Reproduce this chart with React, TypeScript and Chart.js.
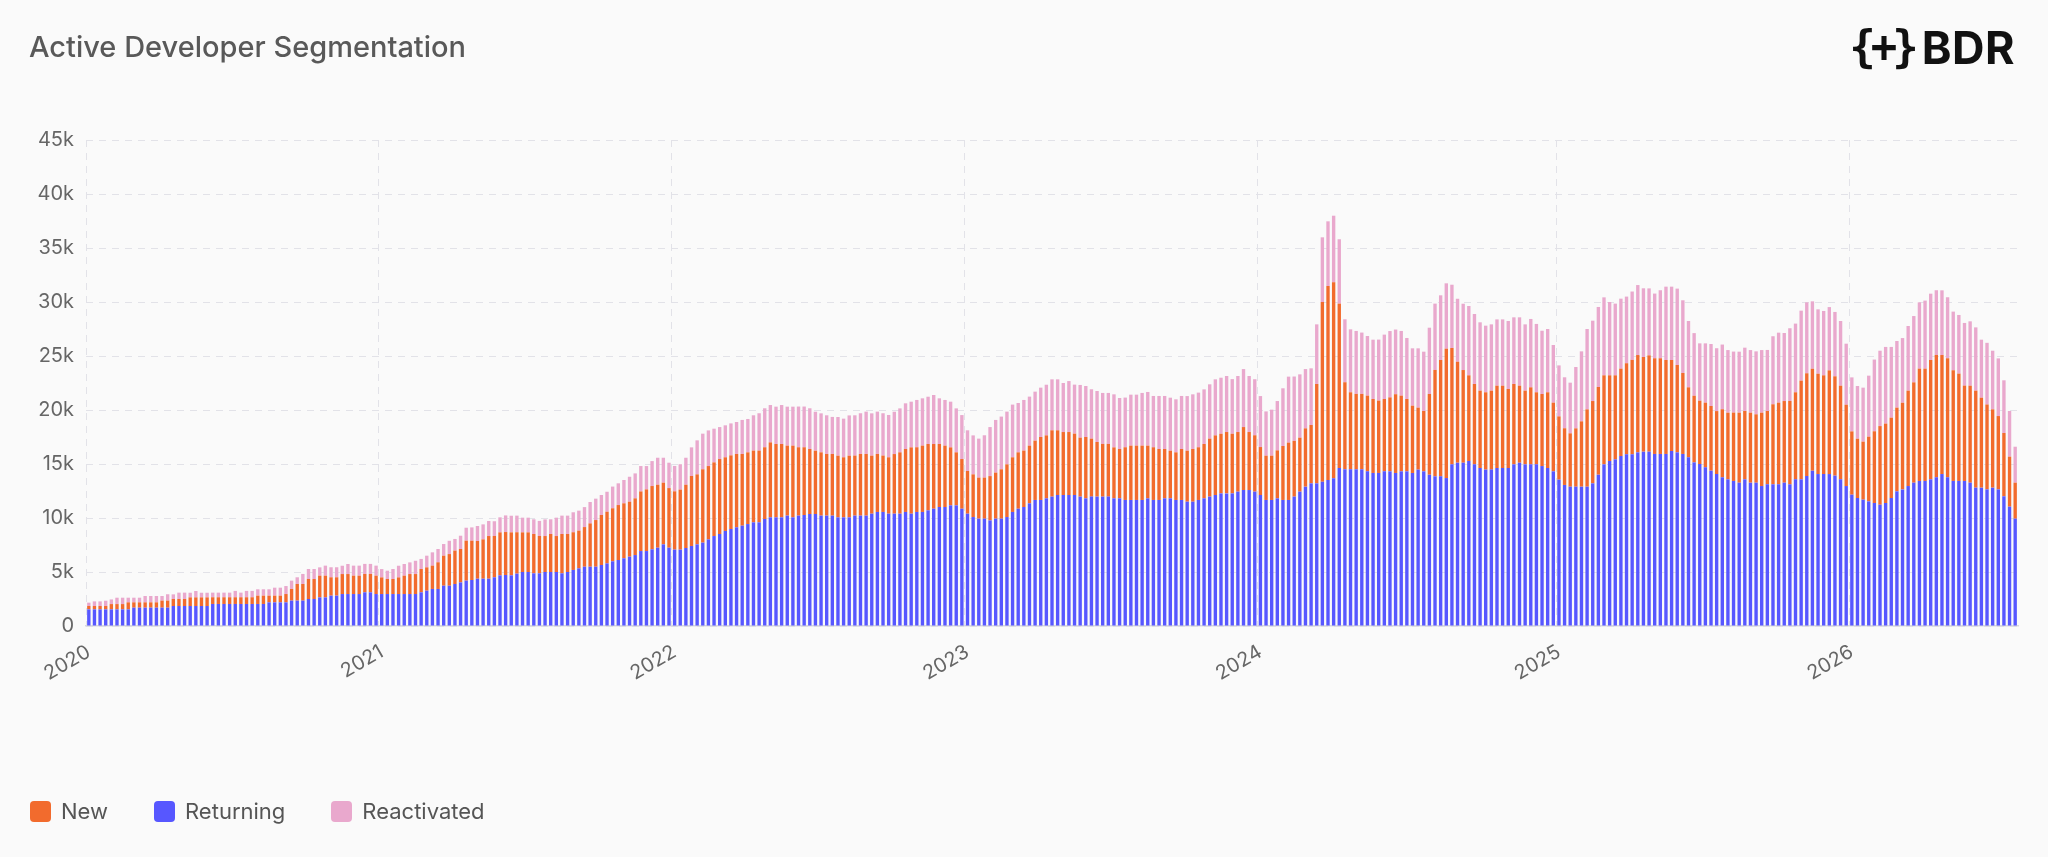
import { Chart, registerables } from "chart.js";
import type { ChartConfiguration } from "chart.js";
import React from "react";

Chart.register(...registerables);

// weekly buckets, Monday starts
const firstWeek = "2020-01-06";
const weekCount = 343;

const seriesNames = ["New", "Returning", "Reactivated"];
const seriesColors = ["#F26B2D", "#5757FF", "#E9A8CD"];
const yTickValues = [0, 5000, 10000, 15000, 20000, 25000, 30000, 35000, 40000, 45000];

// rows are calendar years 2020 ... 2026
const returning = [
  1540, 1540, 1540, 1540, 1540, 1540, 1540, 1540, 1700, 1700, 1700, 1700, 1700, 1700, 1700, 1850, 1850, 1850, 1850, 1850, 1850, 1850, 2040, 2040, 2040, 2040, 2040, 2040, 2040, 2040, 2040, 2040, 2190, 2190, 2190, 2190, 2350, 2350, 2350, 2500, 2500, 2650, 2650, 2810, 2810, 2960, 2960, 2960, 2960, 3120, 3120, 2960,
  2960, 2960, 2960, 2960, 2960, 2960, 2960, 3120, 3270, 3430, 3430, 3730, 3730, 3890, 4040, 4200, 4260, 4380, 4380, 4380, 4510, 4690, 4720, 4690, 4850, 5000, 5000, 4880, 4880, 5000, 5000, 5000, 4880, 5000, 5190, 5340, 5490, 5490, 5490, 5650, 5800, 5990, 6110, 6270, 6420, 6570, 6940, 6940, 7100, 7250, 7560, 7250,
  7070, 7070, 7220, 7410, 7560, 7720, 8020, 8330, 8520, 8800, 8980, 9140, 9290, 9440, 9600, 9600, 9910, 10060, 10060, 10060, 10220, 10060, 10220, 10280, 10370, 10370, 10220, 10220, 10220, 10060, 10060, 10060, 10220, 10220, 10220, 10400, 10560, 10560, 10400, 10400, 10400, 10560, 10400, 10560, 10560, 10710, 10860, 11020, 11020, 11170, 11170, 10860,
  10400, 10090, 9940, 9940, 9780, 9940, 9940, 10090, 10560, 10860, 11020, 11360, 11670, 11670, 11820, 11980, 12130, 12130, 12130, 12130, 11980, 11820, 11980, 11980, 11980, 11980, 11820, 11820, 11670, 11670, 11670, 11670, 11820, 11670, 11670, 11820, 11820, 11670, 11670, 11510, 11510, 11670, 11820, 11980, 12130, 12280, 12280, 12280, 12440, 12590, 12590, 12440,
  12130, 11670, 11670, 11820, 11670, 11670, 11980, 12440, 12900, 13210, 13210, 13360, 13520, 13670, 14630, 14510, 14510, 14510, 14510, 14320, 14170, 14170, 14320, 14320, 14170, 14320, 14320, 14170, 14480, 14320, 14010, 13860, 13860, 13700, 14970, 15120, 15120, 15280, 14970, 14630, 14480, 14480, 14630, 14630, 14630, 14970, 15120, 14970, 14970, 14970, 14810, 14630, 14320,
  13550, 13060, 12900, 12900, 12900, 12900, 13210, 14010, 14970, 15280, 15430, 15740, 15900, 15900, 16080, 16140, 16140, 15930, 15930, 15930, 16200, 16080, 15930, 15620, 15150, 15000, 14690, 14380, 14070, 13770, 13580, 13430, 13270, 13580, 13270, 13270, 12960, 13120, 13120, 13120, 13270, 13120, 13580, 13580, 13890, 14380, 14070, 14070, 14070, 13920, 13580, 12960,
  12160, 11850, 11700, 11540, 11390, 11230, 11390, 11850, 12470, 12650, 12960, 13270, 13430, 13430, 13580, 13770, 14070, 13770, 13430, 13430, 13430, 13270, 12810, 12810, 12650, 12810, 12650, 12010, 11050, 9940,
];

const newDevs = [
  310, 310, 310, 310, 490, 490, 490, 650, 490, 490, 490, 490, 490, 650, 650, 650, 650, 650, 800, 800, 800, 800, 620, 620, 620, 620, 620, 620, 620, 620, 770, 770, 620, 620, 620, 770, 1080, 1540, 1540, 1850, 1850, 2010, 2010, 1700, 1700, 1850, 1850, 1700, 1700, 1700, 1700, 1700,
  1540, 1390, 1390, 1540, 1700, 1850, 1850, 2160, 2160, 2160, 2470, 2780, 2930, 3090, 3090, 3700, 3640, 3490, 3640, 3950, 3830, 3980, 3980, 3980, 3830, 3670, 3670, 3640, 3460, 3330, 3520, 3330, 3640, 3520, 3490, 3490, 3670, 4010, 4320, 4630, 4780, 4910, 5090, 5090, 5090, 5250, 5520, 5710, 5860, 5830, 5710, 5520,
  5400, 5560, 5860, 6480, 6480, 6790, 6790, 6820, 6940, 6820, 6820, 6790, 6640, 6640, 6640, 6640, 6640, 6940, 6790, 6790, 6480, 6640, 6330, 6270, 6020, 5860, 5860, 5710, 5710, 5710, 5560, 5710, 5560, 5710, 5710, 5370, 5370, 5220, 5220, 5520, 5680, 5830, 6140, 5990, 6140, 6140, 5990, 5830, 5680, 5370, 4910, 4600,
  3950, 3950, 3800, 3800, 4100, 4260, 4570, 4880, 5060, 5220, 5220, 5340, 5490, 5830, 5830, 6140, 5990, 5830, 5830, 5680, 5460, 5680, 5370, 5060, 4880, 4880, 4720, 4570, 4880, 5030, 5030, 5030, 4880, 4880, 4720, 4570, 4410, 4410, 4720, 4720, 4880, 4880, 5030, 5370, 5520, 5520, 5680, 5520, 5520, 5830, 5370, 5220,
  4440, 4100, 4100, 4440, 5000, 5310, 5160, 5000, 5400, 5400, 9200, 16640, 17960, 18150, 15220, 8060, 7130, 6980, 6980, 7010, 6850, 6700, 6700, 6850, 7290, 7010, 6700, 6230, 5740, 5590, 7470, 9850, 10770, 11980, 10770, 9350, 8580, 7930, 7440, 7160, 7160, 7310, 7620, 7620, 7320, 7440, 7130, 6820, 7130, 6670, 6670, 7010, 6360,
  5860, 5250, 4940, 5400, 6050, 7160, 7620, 8120, 8240, 7930, 7780, 8090, 8430, 8740, 9010, 8770, 8920, 8860, 8860, 8700, 8430, 8090, 7500, 6480, 6170, 5860, 5990, 5990, 5830, 6300, 6170, 6330, 6480, 6330, 6480, 6330, 6790, 6790, 7410, 7560, 7560, 7720, 8060, 9140, 9510, 9440, 9290, 9140, 9600, 9200, 8670, 7530,
  5860, 5490, 5370, 5990, 6640, 7280, 7350, 7440, 7750, 8020, 8830, 9290, 10400, 10400, 11050, 11330, 11020, 11020, 10250, 9940, 8830, 8980, 8980, 8330, 7860, 7250, 6790, 5860, 4630, 3330,
];

const reactivated = [
  310, 430, 430, 490, 430, 590, 590, 430, 430, 430, 590, 590, 590, 430, 590, 430, 590, 590, 430, 590, 430, 430, 430, 430, 430, 430, 590, 430, 590, 590, 590, 590, 590, 740, 740, 740, 770, 620, 930, 930, 930, 770, 930, 930, 930, 770, 930, 930, 930, 930, 930, 930,
  770, 770, 930, 1080, 1080, 1080, 1230, 930, 1080, 1230, 1230, 1080, 1230, 1080, 1230, 1200, 1230, 1390, 1390, 1390, 1360, 1390, 1540, 1540, 1540, 1360, 1360, 1360, 1390, 1540, 1360, 1700, 1700, 1700, 1850, 1850, 1850, 1980, 1980, 1850, 1850, 2010, 2010, 2160, 2310, 2310, 2350, 2160, 2310, 2500, 2310, 2350,
  2350, 2350, 2500, 2650, 3150, 3300, 3300, 3120, 2960, 2960, 2960, 2960, 3150, 3090, 3270, 3460, 3610, 3460, 3460, 3610, 3610, 3610, 3770, 3770, 3770, 3610, 3610, 3580, 3430, 3580, 3580, 3730, 3730, 3770, 3920, 3920, 3920, 3920, 3920, 3920, 4070, 4230, 4230, 4380, 4380, 4380, 4540, 4230, 4230, 4230, 4070, 4070,
  3770, 3610, 3610, 3920, 4540, 4880, 4880, 4880, 4880, 4570, 4690, 4540, 4540, 4570, 4690, 4720, 4720, 4540, 4720, 4540, 4880, 4720, 4570, 4720, 4720, 4720, 4910, 4720, 4600, 4720, 4720, 4880, 4970, 4750, 4910, 4910, 4910, 4910, 4910, 5060, 5060, 5060, 5060, 5030, 5190, 5190, 5190, 5060, 5190, 5370, 5190, 5190,
  4720, 4100, 4260, 4570, 5340, 6110, 5960, 5860, 5490, 5250, 5520, 5990, 5990, 6170, 5960, 5830, 5830, 5830, 5680, 5520, 5490, 5650, 5960, 6140, 5990, 5990, 5650, 5310, 5490, 5490, 6140, 6140, 5990, 6050, 5860, 5830, 6140, 6420, 6480, 6330, 6170, 6140, 6140, 6140, 6290, 6170, 6330, 6140, 6330, 6330, 5860, 5860, 5340,
  4720, 4720, 4690, 5680, 6480, 7440, 7440, 7410, 7220, 6790, 6640, 6480, 6170, 6330, 6480, 6360, 6200, 5990, 6300, 6790, 6790, 7070, 6730, 6140, 5800, 5310, 5490, 5740, 5820, 5990, 5800, 5650, 5650, 5860, 5800, 5830, 5800, 5650, 6300, 6480, 6300, 6730, 6360, 6480, 6570, 6240, 5960, 5960, 5860, 5960, 5990, 5650,
  5000, 4880, 5000, 5650, 6640, 6980, 7100, 6550, 6170, 5990, 5990, 6140, 6140, 6300, 6140, 5990, 5990, 5650, 5430, 5430, 5800, 5960, 5860, 5370, 5710, 5430, 5340, 4880, 4230, 3330,
];

function buildWeeks(): string[] {
  const out: string[] = [];
  const start = new Date(firstWeek + "T00:00:00Z");
  for (let i = 0; i < weekCount; i++) {
    const d = new Date(start.getTime() + i * 7 * 86400000);
    out.push(d.toISOString().slice(0, 10));
  }
  return out;
}

const weeks = buildWeeks();
// index of the first week in each calendar year
const yearStarts = new Set(
  weeks
    .map((w, i) => (i === 0 || w.slice(0, 4) !== weeks[i - 1].slice(0, 4) ? i : -1))
    .filter((i) => i >= 0)
);

const gridColor = "#e2e2e8";
const tickColor = "#666666";

function buildConfig(): ChartConfiguration<"bar"> {
  const values: Record<string, number[]> = {
    New: newDevs,
    Returning: returning,
    Reactivated: reactivated,
  };
  // stacking: returning at the bottom, new in the middle, reactivated on top
  const stackOrder = ["Returning", "New", "Reactivated"];
  return {
    type: "bar",
    data: {
      labels: weeks,
      datasets: stackOrder.map((name) => ({
        label: name,
        data: values[name],
        backgroundColor: seriesColors[seriesNames.indexOf(name)],
        borderWidth: 0,
        barPercentage: 0.6,
        categoryPercentage: 1,
      })),
    },
    options: {
      animation: false,
      responsive: true,
      maintainAspectRatio: false,
      layout: { padding: { top: 140, right: 30, bottom: 171, left: 0 } },
      plugins: {
        legend: { display: false },
        title: { display: false },
        tooltip: { enabled: false },
      },
      scales: {
        x: {
          stacked: true,
          afterFit: (scale) => {
            scale.height = 60;
          },
          grid: {
            drawTicks: false,
            color: (ctx) =>
              typeof ctx.index === "number" && yearStarts.has(ctx.index) ? gridColor : "transparent",
          },
          border: { display: true, color: "#d8d8de", width: 1.5, dash: [7, 6] },
          ticks: {
            autoSkip: false,
            minRotation: 30,
            maxRotation: 30,
            padding: 14,
            color: tickColor,
            font: { family: "Inter", size: 20 },
            callback: (_v, index) => (yearStarts.has(index) ? weeks[index].slice(0, 4) : ""),
          },
        },
        y: {
          stacked: true,
          min: 0,
          max: 45000,
          afterFit: (scale) => {
            scale.width = 86;
          },
          afterBuildTicks: (scale) => {
            scale.ticks = yTickValues.map((v) => ({ value: v }));
          },
          grid: { drawTicks: false, color: gridColor, lineWidth: 1 },
          border: { display: false, dash: [7, 6] },
          ticks: {
            padding: 12,
            color: tickColor,
            font: { family: "Inter", size: 20 },
            callback: (v) => (Number(v) === 0 ? "0" : `${Number(v) / 1000}k`),
          },
        },
      },
    },
  };
}

function Legend() {
  return (
    <div
      style={{
        position: "absolute",
        left: 30,
        top: 796,
        height: 30,
        display: "flex",
        alignItems: "center",
        gap: 46,
      }}
    >
      {seriesNames.map((name, i) => (
        <div key={name} style={{ display: "flex", alignItems: "center", gap: 10 }}>
          <span
            style={{
              width: 21,
              height: 21,
              borderRadius: 4,
              background: seriesColors[i],
              display: "inline-block",
            }}
          />
          <span style={{ fontSize: 22, color: "#555" }}>{name}</span>
        </div>
      ))}
    </div>
  );
}

export default function App() {
  const chartRef = React.useRef<HTMLCanvasElement>(null);

  React.useEffect(() => {
    let chart: Chart | undefined;
    if (chartRef.current !== null) {
      chart = new Chart(chartRef.current, buildConfig());
    }
    return () => {
      chart?.destroy();
    };
  }, []);

  return (
    <div
      style={{
        position: "absolute",
        left: 0,
        top: 0,
        width: 2048,
        height: 857,
        background: "#fafafa",
        fontFamily: "Inter, 'Noto Sans', sans-serif",
        overflow: "hidden",
      }}
    >
      <div style={{ position: "absolute", left: 0, top: 0, width: 2048, height: 857 }}>
        <canvas ref={chartRef} />
      </div>
      <div
        style={{
          position: "absolute",
          left: 29,
          top: 32,
          fontSize: 29,
          lineHeight: 1,
          fontWeight: 500,
          color: "#595959",
        }}
      >
        Active Developer Segmentation
      </div>
      <div
        style={{
          position: "absolute",
          right: 33,
          top: 25,
          height: 44,
          display: "flex",
          alignItems: "center",
          color: "#111",
          lineHeight: 1,
        }}
      >
        <span
          style={{
            fontFamily: "'DejaVu Sans Mono', monospace",
            fontWeight: 700,
            fontSize: 44,
            letterSpacing: -5,
            marginRight: 8,
          }}
        >
          {"{+}"}
        </span>
        <span style={{ fontWeight: 700, fontSize: 45, letterSpacing: 0.5 }}>BDR</span>
      </div>
      <Legend />
    </div>
  );
}
